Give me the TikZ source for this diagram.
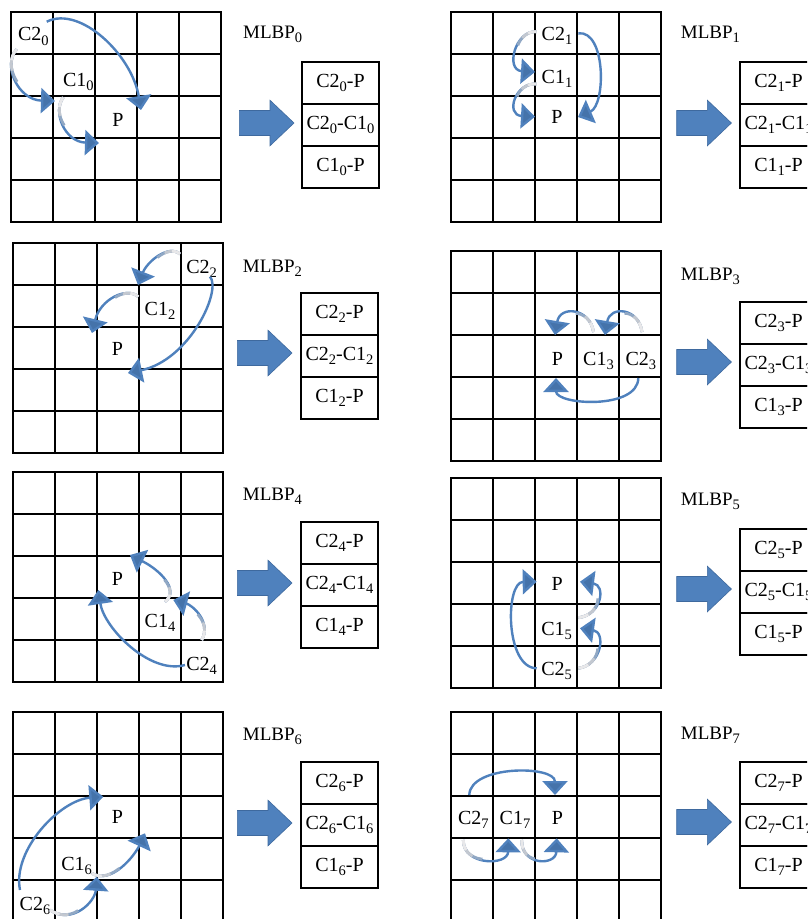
\documentclass[tikz,border=0pt]{standalone}
\usepackage{fontspec}
\setmainfont{Liberation Serif}
\usetikzlibrary{arrows.meta}
\definecolor{ablue}{RGB}{79,129,189}
\definecolor{ablueD}{RGB}{62,105,158}
\definecolor{fadeA}{RGB}{145,168,196}
\definecolor{fadeB}{RGB}{195,200,208}
\definecolor{fadeC}{RGB}{232,232,234}
\newcommand\sbs[1]{\raisebox{-0.22em}{\fontsize{14.5}{14.5}\selectfont #1}}
\tikzset{
  gridline/.style={line width=2pt, black, line cap=rect},
  cellbox/.style={draw, line width=1.8pt, minimum width=77pt, minimum height=42pt,
    inner sep=0pt, outer sep=0pt, text height=14pt, text depth=5pt,
    font=\fontsize{20}{24}\selectfont},
  lbl/.style={anchor=base, inner sep=0pt, font=\fontsize{20}{24}\selectfont},
  ttl/.style={anchor=base west, inner sep=0pt, font=\fontsize{19}{23}\selectfont},
  bigarrow/.style={fill=ablue, draw=ablueD, line width=0.6pt, line join=miter},
  carrow/.style={draw=ablue, line width=2.4pt, -{Triangle[width=25pt,length=14pt,fill=ablueD!60!ablue]}},
  fadeline/.style={line width=2.8pt},
}
\newcommand\gridAt[2]{%
  \draw[gridline] \foreach \i in {0,...,5}{(#1+\i*42,#2) -- (#1+\i*42,#2+210) (#1,#2+\i*42) -- (#1+210,#2+\i*42)};}
\newcommand\bigArr[2]{%
  \draw[bigarrow] (#1,#2-12.5) -- (#1+30.7,#2-12.5) -- (#1+30.7,#2-22.8) -- (#1+54.7,#2)
    -- (#1+30.7,#2+22.8) -- (#1+30.7,#2+12.5) -- (#1,#2+12.5) -- cycle;}
\newcommand\tableAt[4]{% name, x, y, subscript
  \node[cellbox, anchor=north west] (#1a) at (#2,#3) {C2\sbs{#4}-P};
  \node[cellbox, anchor=north] (#1b) at (#1a.south) {C2\sbs{#4}-C1\sbs{#4}};
  \node[cellbox, anchor=north] (#1c) at (#1b.south) {C1\sbs{#4}-P};}
\newcommand\cArrow[6]{% name, start, c1, c2, end, grey length
  \coordinate (#1s) at (#2); \coordinate (#1e) at (#5);
  \draw[carrow] (#1s) .. controls (#3) and (#4) .. (#1e);
  \ifdim #6pt>0pt
    \pgfmathsetmacro\gA{#6}\pgfmathsetmacro\gB{#6*0.65}\pgfmathsetmacro\gC{#6*0.35}
    \draw[fadeline, draw=fadeA, dash pattern=on \gA pt off 3000pt] (#1s) .. controls (#3) and (#4) .. (#1e);
    \draw[fadeline, draw=fadeB, dash pattern=on \gB pt off 3000pt] (#1s) .. controls (#3) and (#4) .. (#1e);
    \draw[fadeline, draw=fadeC, dash pattern=on \gC pt off 3000pt] (#1s) .. controls (#3) and (#4) .. (#1e);
  \fi}
\begin{document}
\begin{tikzpicture}[x=1pt, y=-1pt]
\useasboundingbox (0,0) rectangle (807,919);
\clip (0,0) rectangle (807,919);
\fill[white] (0,0) rectangle (807,919);

% ---------- panel 0 ----------
\gridAt{11}{12}
\node[ttl] (m0) at (243,38) {MLBP\sbs{0}};
\tableAt{t0}{302}{62}{0}
\bigArr{239.3}{123}
\node[lbl] (c20) at (33.3,40.7) {C2\sbs{0}};
\node[lbl] (c10) at (78.3,86.5) {C1\sbs{0}};
\node[lbl] (p0) at (118,126.7) {P};
\cArrow{a0a}{46.7,21.7}{80,5}{132,55}{141,110}{0}
\cArrow{a0b}{16.7,49.3}{2,65}{18,100}{55,101}{35}
\cArrow{a0c}{63.3,97.3}{52,112}{65,142}{99,143}{30}

% ---------- panel 1 ----------
\gridAt{451}{12}
\node[ttl] (m1) at (680.7,38) {MLBP\sbs{1}};
\tableAt{t1}{740}{62}{1}
\bigArr{676.7}{123}
\node[lbl] (c21) at (557,40) {C2\sbs{1}};
\node[lbl] (c11) at (557,83) {C1\sbs{1}};
\node[lbl] (p1) at (557,123.3) {P};
\cArrow{a1a}{536.7,31.7}{515,30}{505,70}{535,72}{25}
\cArrow{a1b}{536.7,84}{515,82}{505,115}{535,116.7}{25}
\cArrow{a1c}{578.3,33.3}{606,30}{606,105}{578,117}{0}

% ---------- panel 2 ----------
\gridAt{13}{243}
\node[ttl] (m2) at (242.7,272.3) {MLBP\sbs{2}};
\tableAt{t2}{301}{293}{2}
\bigArr{237.3}{353}
\node[lbl] (c22) at (201.7,273.3) {C2\sbs{2}};
\node[lbl] (c12) at (160,315) {C1\sbs{2}};
\node[lbl] (p2) at (117.5,355) {P};
\cArrow{a2a}{180,254}{168,244}{147,262}{138,285}{25}
\cArrow{a2b}{138.3,296.7}{126,286}{100,300}{92,333}{25}
\cArrow{a2c}{210,276.7}{222,290}{190,360}{128,373}{0}

% ---------- panel 3 ----------
\gridAt{451}{251}
\node[ttl] (m3) at (680.7,280) {MLBP\sbs{3}};
\tableAt{t3}{740}{302}{3}
\bigArr{676.7}{362}
\node[lbl] (p3) at (557.5,365) {P};
\node[lbl] (c13) at (598.5,365) {C1\sbs{3}};
\node[lbl] (c23) at (640.8,365) {C2\sbs{3}};
\cArrow{a3a}{593.5,332}{590,308}{560,305}{555,335}{28}
\cArrow{a3b}{642,332}{639,308}{610,305}{605,335}{28}
\cArrow{a3c}{638.3,378}{638,410}{556,405}{556,378}{0}

% ---------- panel 4 ----------
\gridAt{13}{472}
\node[ttl] (m4) at (242.7,500.7) {MLBP\sbs{4}};
\tableAt{t4}{301}{522}{4}
\bigArr{237.3}{583}
\node[lbl] (p4) at (117.5,585) {P};
\node[lbl] (c14) at (160,627.5) {C1\sbs{4}};
\node[lbl] (c24) at (201.7,670) {C2\sbs{4}};
\cArrow{a4a}{165,601.7}{180,590}{160,570}{130,555}{25}
\cArrow{a4b}{201.7,640}{212,622}{192,605}{173.3,600}{28}
\cArrow{a4c}{185,665}{150,675}{104,628}{98.3,590}{0}

% ---------- panel 5 ----------
\gridAt{451}{478}
\node[ttl] (m5) at (680.7,505.7) {MLBP\sbs{5}};
\tableAt{t5}{740}{529}{5}
\bigArr{676.7}{589}
\node[lbl] (p5) at (557.3,590) {P};
\node[lbl] (c15) at (556.7,635) {C1\sbs{5}};
\node[lbl] (c25) at (556.7,675) {C2\sbs{5}};
\cArrow{a5a}{578.3,617.7}{602,615}{606,585}{580,581.7}{30}
\cArrow{a5b}{578.3,668.3}{602,665}{606,632}{580,628.3}{30}
\cArrow{a5c}{536.7,668.3}{505,668}{505,582}{536.7,581.7}{0}

% ---------- panel 6 ----------
\gridAt{13}{712}
\node[ttl] (m6) at (242.7,740.7) {MLBP\sbs{6}};
\tableAt{t6}{301}{762}{6}
\bigArr{237.3}{823}
\node[lbl] (p6) at (117.5,823.3) {P};
\node[lbl] (c16) at (76.7,870) {C1\sbs{6}};
\node[lbl] (c26) at (35,910) {C2\sbs{6}};
\cArrow{a6a}{91.7,873.3}{112,885}{135,855}{145,833.3}{30}
\cArrow{a6b}{50,910}{72,925}{95,902}{96.7,876.7}{30}
\cArrow{a6c}{20,890}{12,850}{60,800}{103.3,796.7}{0}

% ---------- panel 7 ----------
\gridAt{451}{712}
\node[ttl] (m7) at (680.7,739.3) {MLBP\sbs{7}};
\tableAt{t7}{740}{762}{7}
\bigArr{676.7}{822}
\node[lbl] (c27) at (473.3,824) {C2\sbs{7}};
\node[lbl] (c17) at (515,824) {C1\sbs{7}};
\node[lbl] (p7) at (557.5,824) {P};
\cArrow{a7a}{469.3,795}{470,765}{555,765}{555,795}{0}
\cArrow{a7b}{463.3,840}{463,866}{508,866}{508.3,838.3}{30}
\cArrow{a7c}{521.7,840}{521,866}{556,866}{556.7,838.3}{25}
\end{tikzpicture}
\end{document}
